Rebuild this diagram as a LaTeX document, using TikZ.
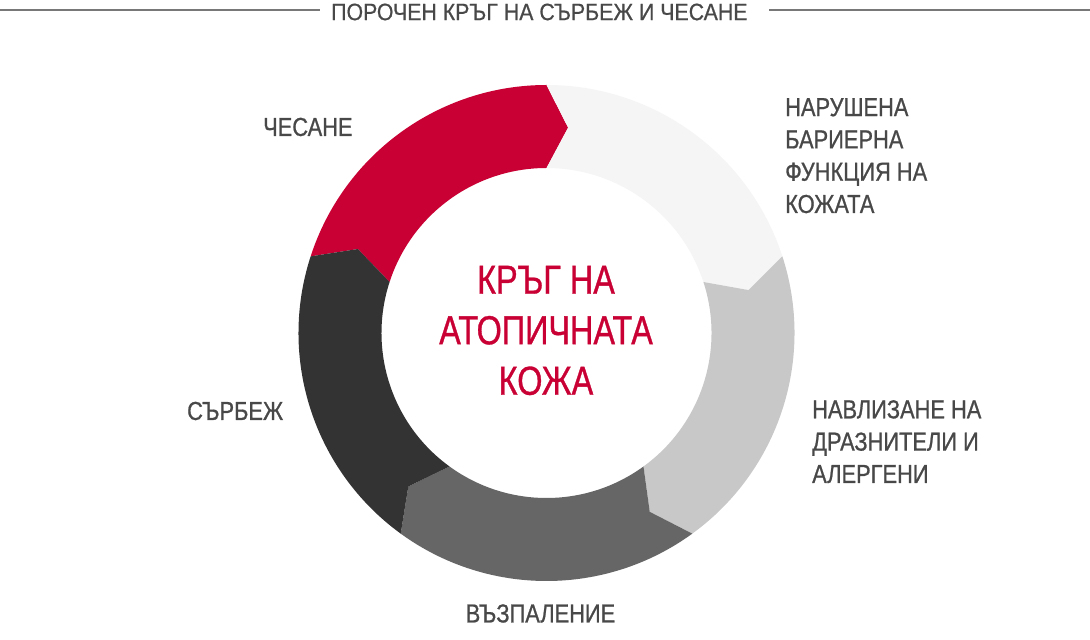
\documentclass[tikz,border=0pt]{standalone}
\usepackage{fontspec}
\setmainfont{Liberation Sans}
\newfontfamily\labfont[FakeStretch=0.84,FakeBold=0.8]{Liberation Sans}
\newfontfamily\ttlfont[FakeStretch=0.9,FakeBold=0.6]{Liberation Sans}
\newfontfamily\ctrfont[FakeStretch=0.8,FakeBold=0.8]{Liberation Sans}
\definecolor{ringred}{RGB}{200,0,52}
\definecolor{ringlight}{RGB}{245,245,245}
\definecolor{ringlgray}{RGB}{200,200,200}
\definecolor{ringmid}{RGB}{102,102,102}
\definecolor{ringdark}{RGB}{51,51,51}
\definecolor{txtgray}{RGB}{72,72,72}
\definecolor{linegray}{RGB}{120,120,120}
\tikzset{
  lab/.style={inner sep=0pt, text=txtgray, font=\labfont\fontsize{26}{32.3}\selectfont, align=left},
  ttl/.style={inner sep=0pt, text=txtgray, font=\ttlfont\fontsize{23.7}{28}\selectfont},
  ctr/.style={inner sep=0pt, text=ringred, font=\ctrfont\fontsize{40.5}{50.5}\selectfont, align=center},
  rule/.style={draw=linegray, line width=1.5pt}
}
\newcommand{\ringseg}[3]{% start angle, end angle, colour
  \fill[#3] (#1:248) arc[start angle=#1, end angle=#2, radius=248]
    -- ({#2-6}:206.5) -- (#2:165) arc[start angle=#2, end angle=#1, radius=165]
    -- ({#1-6}:206.5) -- cycle;}
\begin{document}
\begin{tikzpicture}[x=1pt,y=1pt]
\useasboundingbox (0,0) rectangle (1090,640);
\fill[white] (0,0) rectangle (1090,640);
% title
\node[ttl, anchor=west] (title) at (331,628) {ПОРОЧЕН КРЪГ НА СЪРБЕЖ И ЧЕСАНЕ};
\coordinate (tl) at (0,630);
\coordinate (tlend) at (320,630);
\coordinate (trstart) at (769,630);
\coordinate (tr) at (1090,630);
\draw[rule] (tl) -- (tlend);
\draw[rule] (trstart) -- (tr);
% ring
\begin{scope}[shift={(546.5,307)}]
  \ringseg{162}{90}{ringred}
  \ringseg{90}{18}{ringlight}
  \ringseg{18}{-54}{ringlgray}
  \ringseg{-54}{-126}{ringmid}
  \ringseg{234}{162}{ringdark}
\end{scope}
% centre text
\node[ctr] (centre) at (546,309.5) {КРЪГ НА\\АТОПИЧНАТА\\КОЖА};
% labels
\node[lab, anchor=west] (chesane) at (263,513) {ЧЕСАНЕ};
\node[lab, anchor=north west] (barrier) at (785,542) {НАРУШЕНА\\БАРИЕРНА\\ФУНКЦИЯ НА\\КОЖАТА};
\node[lab, anchor=north west] (irritants) at (812,240) {НАВЛИЗАНЕ НА\\ДРАЗНИТЕЛИ И\\АЛЕРГЕНИ};
\node[lab, anchor=west] (itch) at (187,229) {СЪРБЕЖ};
\node[lab] (inflam) at (540.5,26.5) {ВЪЗПАЛЕНИЕ};
\end{tikzpicture}
\end{document}
